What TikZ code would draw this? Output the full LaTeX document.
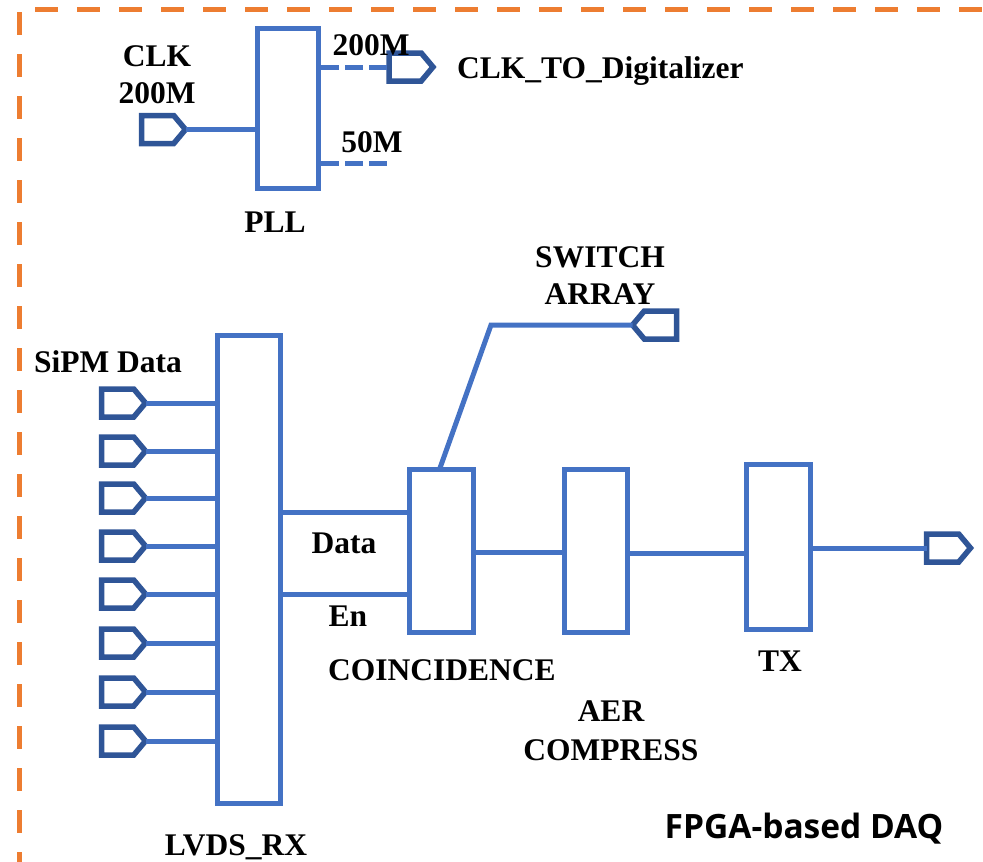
\documentclass[tikz,border=0pt]{standalone}
\usepackage{fontspec}
\setmainfont{Liberation Serif}
\newfontfamily\labelsans{Open Sans}
\usetikzlibrary{shapes.symbols}
\definecolor{wireblue}{HTML}{4472C4}
\definecolor{portblue}{HTML}{2F5597}
\definecolor{frameorange}{HTML}{ED7D31}
\tikzset{
  lbl/.style={font=\fontsize{31.5}{37}\selectfont\bfseries, inner sep=0pt, text=black},
  blk/.style={draw=wireblue, line width=5pt, rectangle, inner sep=0pt},
  wire/.style={draw=wireblue, line width=5pt},
  clkwire/.style={wire, dash pattern=on 18pt off 6pt},
  port/.style={signal, draw=portblue, line width=5.5pt, inner sep=0pt, outer sep=0pt,
    minimum width=44pt, minimum height=28pt, signal pointer angle=100},
  portout/.style={port, signal to=east, anchor=west},
  portin/.style={port, signal to=west, anchor=east}
}
\tikzset{
  frame/.style={draw=frameorange, line width=5pt, dash pattern=on 23pt off 19pt}
}
\begin{document}
\begin{tikzpicture}[x=1pt, y=-1pt]
\useasboundingbox (0,0) rectangle (983,862);

% dashed outline of the FPGA
\draw[frame] (19,12) -- (19,880);
\draw[frame] (35,9) -- (1000,9);

% PLL and clock ports
\node[blk, minimum width=61pt, minimum height=160pt] (pll) at (288,108) {};
\node[portout] (clkin) at (141.5,129.5) {};
\node[portout] (clkout) at (389,67) {};
\coordinate (clk50) at (391,163);
\draw[wire] (clkin.east) -- (clkin.east -| pll.west);
\draw[clkwire] (pll.east |- clkout.west) -- (clkout.west);
\draw[clkwire] (pll.east |- clk50) -- (clk50);

\node[lbl, align=center] (clklbl) at (157,75) {CLK\\200M};
\node[lbl, anchor=base] (f200) at (371,55) {200M};
\node[lbl, anchor=base] (f50) at (372,152) {50M};
\node[lbl, anchor=base] (plllbl) at (275,232) {PLL};
\node[lbl, anchor=base west] (dig) at (457,78) {CLK\_TO\_Digitalizer};

% processing chain
\node[blk, minimum width=63pt, minimum height=468pt] (lvds) at (249,569.5) {};
\node[blk, minimum width=64pt, minimum height=163pt] (coinc) at (441.5,551) {};
\node[blk, minimum width=63pt, minimum height=163pt] (aer) at (596,551) {};
\node[blk, minimum width=64pt, minimum height=165pt] (tx) at (778,547) {};

% SiPM inputs
\foreach \i/\y in {1/403,2/451,3/498,4/546,5/594,6/643,7/692,8/741}{
  \node[portout] (sipm\i) at (101.5,\y) {};
  \draw[wire] (sipm\i.east) -- (sipm\i.east -| lvds.west);
}
\node[lbl, anchor=base] (sipmlbl) at (108,372) {SiPM Data};

% LVDS_RX to COINCIDENCE
\coordinate (dataln) at (0,512);
\coordinate (enln) at (0,594);
\draw[wire] (lvds.east |- dataln) -- (coinc.west |- dataln);
\draw[wire] (lvds.east |- enln) -- (coinc.west |- enln);
\node[lbl, anchor=base] (datalbl) at (344,553) {Data};
\node[lbl, anchor=base] (enlbl) at (348,626) {En};

% switch array port
\node[portin] (sw) at (676.5,325) {};
\coordinate (swbend) at (491,325);
\draw[wire, line join=miter] (440,468) -- (swbend) -- (sw.west);
\node[lbl, align=center] (swlbl) at (600,275.5) {SWITCH\\ARRAY};

% chain connections and output
\node[portout] (out) at (926.5,548) {};
\draw[wire] (coinc.east |- 0,552) -- (aer.west |- 0,552);
\draw[wire] (aer.east |- 0,553) -- (tx.west |- 0,553);
\draw[wire] (tx.east |- out.west) -- (out.west);

\node[lbl, anchor=base] (coinclbl) at (442,680) {COINCIDENCE};
\node[lbl, anchor=base] (txlbl) at (780,671) {TX};
\node[lbl, anchor=base] (aerlbl) at (611,721) {AER};
\node[lbl, anchor=base] (cmplbl) at (611,760) {COMPRESS};
\node[lbl, anchor=base] (lvdslbl) at (236,855) {LVDS\_RX};

\node[font=\labelsans\fontsize{33.5}{38}\selectfont\bfseries, inner sep=0pt, anchor=base] (daq) at (804,838) {FPGA-based DAQ};
\end{tikzpicture}
\end{document}
